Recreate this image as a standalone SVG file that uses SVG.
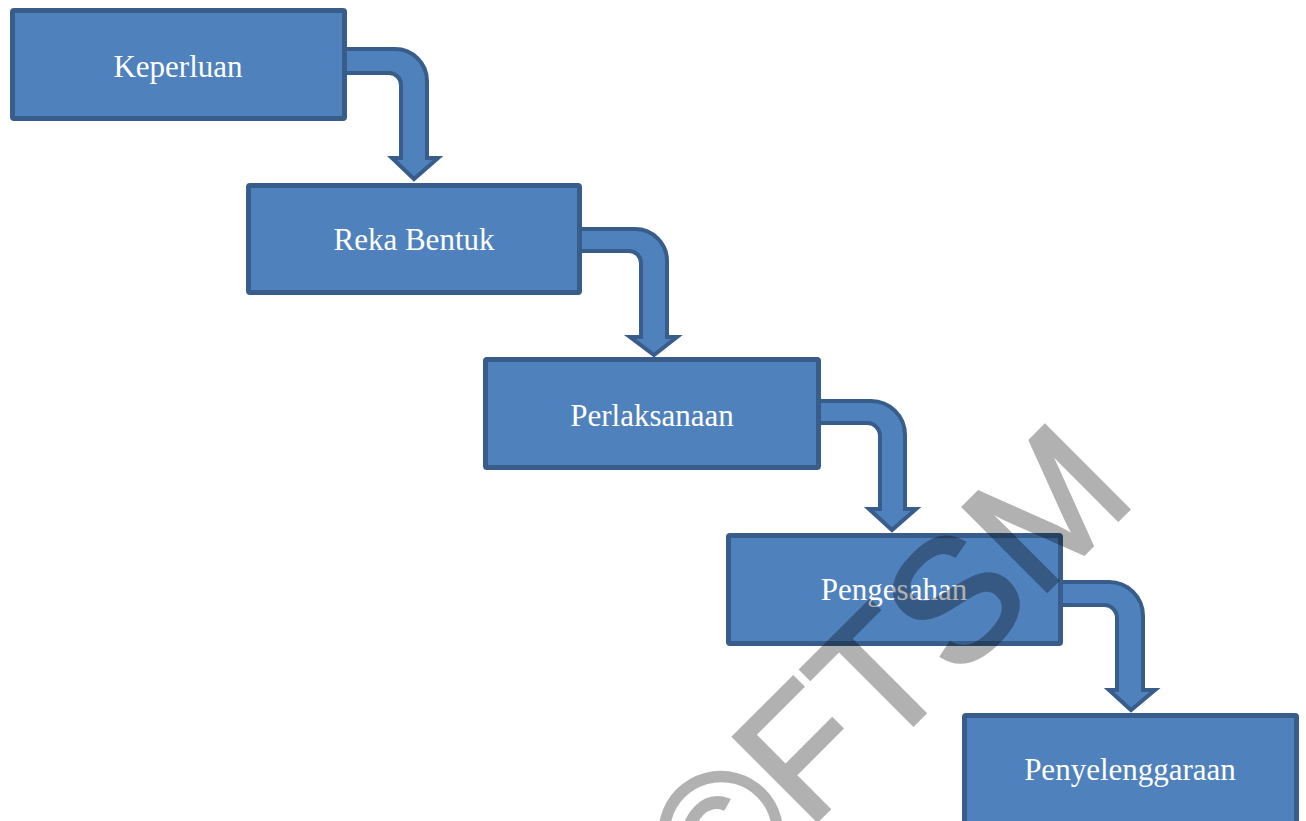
<svg xmlns="http://www.w3.org/2000/svg" width="1306" height="821" viewBox="0 0 1306 821">
<style>
.box{fill:#4f81bd;stroke:#385d8a;stroke-width:5}
.arr{fill:#4f81bd;stroke:#385d8a;stroke-width:4;stroke-linejoin:miter}
.lbl{font-family:"Liberation Serif","Times New Roman",serif;font-size:31px;fill:#ffffff;text-anchor:middle}
.wm{font-family:"Liberation Sans",Arial,sans-serif;font-size:172px;fill:#000000;stroke:#000000;stroke-width:3.5;stroke-linejoin:miter}
</style>
<rect width="1306" height="821" fill="#ffffff"/>
<g id="connectors">
<path class="arr" d="M340,49 H395 A32,32 0 0 1 427,81 V158 H438 L414,179 L392,158 H401 V85 A12,12 0 0 0 389,73 H340 Z"/>
<path class="arr" d="M577,229 H635 A32,32 0 0 1 667,261 V337 H677 L654,355 L630,337 H641 V263 A12,12 0 0 0 629,251 H577 Z"/>
<path class="arr" d="M816,401 H871 A34,34 0 0 1 905,435 V509 H916 L892,530 L869,509 H880 V436 A13,13 0 0 0 867,423 H816 Z"/>
<path class="arr" d="M1058,582 H1109 A34,34 0 0 1 1143,616 V690 H1155 L1131,710 L1109,690 H1117 V618 A13,13 0 0 0 1104,605 H1058 Z"/>
</g>
<g id="n1"><rect class="box" x="12.5" y="10.5" width="332" height="108" rx="1.5"/><text class="lbl" x="178" y="77">Keperluan</text></g>
<g id="n2"><rect class="box" x="248.5" y="185.5" width="331" height="107" rx="1.5"/><text class="lbl" x="414" y="250">Reka Bentuk</text></g>
<g id="n3"><rect class="box" x="485.5" y="359.5" width="333" height="108" rx="1.5"/><text class="lbl" x="652" y="426">Perlaksanaan</text></g>
<g id="n4"><rect class="box" x="728.5" y="535.5" width="332" height="108" rx="1.5"/><text class="lbl" x="894" y="600">Pengesahan</text></g>
<g id="n5"><rect class="box" x="964.5" y="715.5" width="332" height="108" rx="1.5"/><text class="lbl" x="1130" y="780">Penyelenggaraan</text></g>
<g id="watermark" opacity="0.3"><text class="wm" x="718" y="920" transform="rotate(-45 718 920)">©FTSM</text></g>
</svg>
